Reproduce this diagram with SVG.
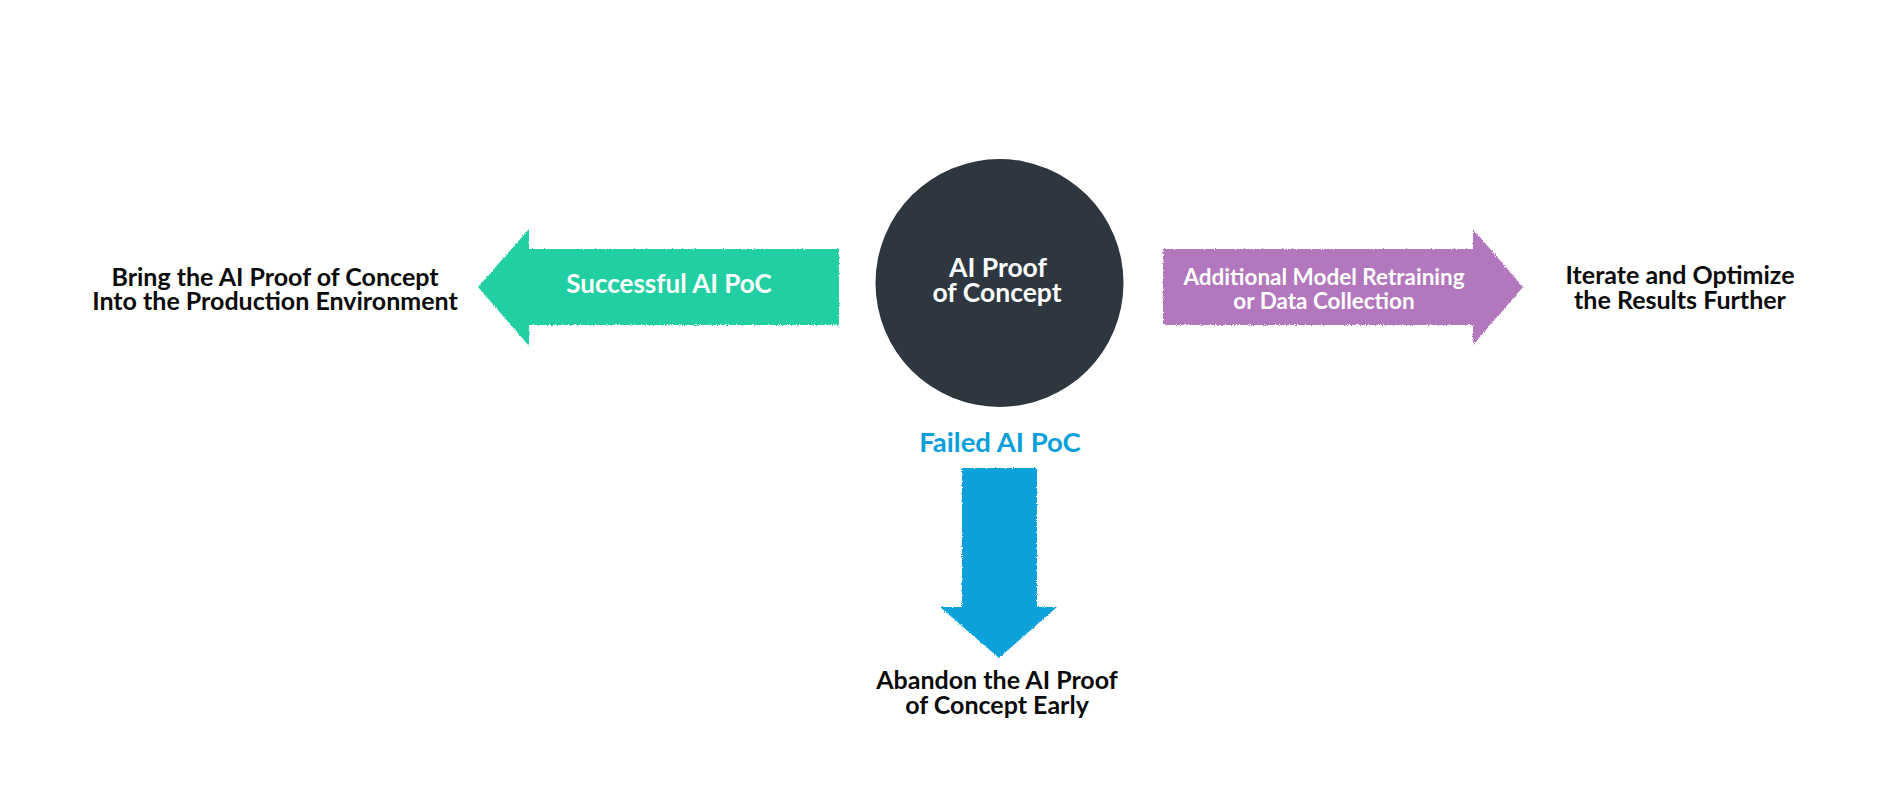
<svg xmlns="http://www.w3.org/2000/svg" width="1895" height="789" viewBox="0 0 1895 789">
  <style>
    .lbl { font-family: Lato, "Noto Sans", "Liberation Sans", sans-serif; font-weight: 700; text-anchor: middle; }
    .dark { fill: #0b0b0b; font-size: 25px; }
    .white { fill: #ffffff; }
  </style>
  <defs>
    <filter id="rough" x="-5%" y="-5%" width="110%" height="110%">
      <feTurbulence type="fractalNoise" baseFrequency="0.9" numOctaves="2" seed="3" result="n"/>
      <feDisplacementMap in="SourceGraphic" in2="n" scale="3" xChannelSelector="R" yChannelSelector="G"/>
    </filter>
  </defs>
  <rect width="1895" height="789" fill="#ffffff"/>

  <g id="connectors">
    <g id="edge-success">
      <path d="M478,287 L529,229 L529,249 L839,249 L839,325 L529,325 L529,346 Z" fill="#23CFA2" filter="url(#rough)"/>
      <text class="lbl white" x="669" y="293" font-size="26">Successful AI PoC</text>
    </g>
    <g id="edge-retrain">
      <path d="M1163,249 L1473,249 L1473,229 L1523,287 L1473,345 L1473,325 L1163,325 Z" fill="#B277BC" filter="url(#rough)"/>
      <text class="lbl white" font-size="22.5"><tspan x="1324" y="285">Additional Model Retraining</tspan><tspan x="1324" y="309">or Data Collection</tspan></text>
    </g>
    <g id="edge-failed">
      <path d="M962,468 L1037,468 L1037,607 L1057,607 L999,658 L940,607 L962,607 Z" fill="#08A1DB" filter="url(#rough)"/>
      <text class="lbl" x="1000" y="452" font-size="27.5" fill="#0A9FDA">Failed AI PoC</text>
    </g>
  </g>

  <g id="node-poc">
    <circle cx="999.5" cy="283" r="124" fill="#2E3740"/>
    <text class="lbl white" font-size="26.5"><tspan x="998" y="277">AI Proof</tspan><tspan x="997" y="302">of Concept</tspan></text>
  </g>

  <g id="node-production">
    <text class="lbl dark"><tspan x="275" y="286">Bring the AI Proof of Concept</tspan><tspan x="275" y="310">Into the Production Environment</tspan></text>
  </g>

  <g id="node-iterate">
    <text class="lbl dark" font-size="25.5"><tspan x="1680" y="284">Iterate and Optimize</tspan><tspan x="1680" y="309">the Results Further</tspan></text>
  </g>

  <g id="node-abandon">
    <text class="lbl dark" font-size="25.5"><tspan x="997" y="689">Abandon the AI Proof</tspan><tspan x="997" y="714">of Concept Early</tspan></text>
  </g>
</svg>
